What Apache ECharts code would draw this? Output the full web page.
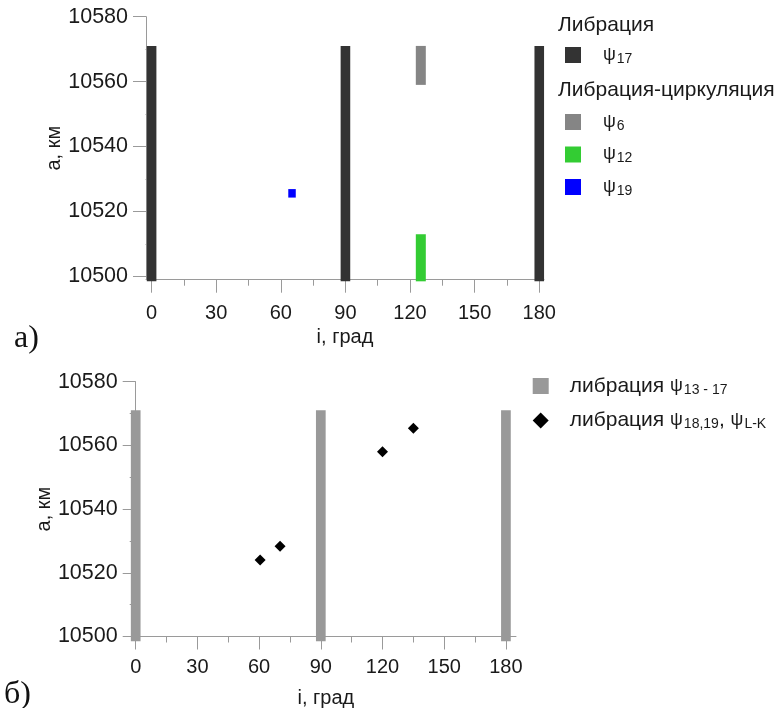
<!DOCTYPE html>
<html><head><meta charset="utf-8">
<script src="https://cdn.jsdelivr.net/npm/echarts@6/dist/echarts.min.js"></script>
<style>html,body{margin:0;padding:0;background:#fff}#chart{width:782px;height:708px}</style>
</head><body><div id="chart"></div>
<script>
// Inclination ticks (deg) and semi-major axis ticks (km)
const xTicks = [0, 30, 60, 90, 120, 150, 180];
const xMinorTicks = [15, 45, 75, 105, 135, 165];
const yTicks = [10500, 10520, 10540, 10560, 10580];
const yMinorTicks = [10510, 10530, 10550, 10570];

// Panel a: libration bands ψ17
const psi17I = [0, 90, 180];
const psi17Low = [10498.5, 10498.5, 10498.5];
const psi17High = [10571, 10571, 10571];
// Panel a: libration-circulation ψ6, ψ12, ψ19
const psi6I = [125];
const psi6Low = [10559];
const psi6High = [10571];
const psi12I = [125];
const psi12Low = [10498.5];
const psi12High = [10513];
const psi19I = [65.2];
const psi19A = [10525.6];

// Panel b: libration bands ψ13-17 and libration points ψ18,19, ψL-K
const bandI = [0, 90, 180];
const bandLow = [10498.5, 10498.5, 10498.5];
const bandHigh = [10571, 10571, 10571];
const pointI = [60.5, 70.2, 120, 135];
const pointA = [10524, 10528.3, 10558, 10565.4];

const FONT = "'Liberation Sans', Arial, sans-serif";
const TXT = '#1a1a1a';
const AXIS = '#9a9a9a';

function zip3(a, b, c) { return a.map((v, k) => [v, b[k], c[k]]); }
function zip2(a, b) { return a.map((v, k) => [v, b[k]]); }

function bandRenderer(widthPx) {
  return function (params, api) {
    const top = api.coord([api.value(0), api.value(2)]);
    const bot = api.coord([api.value(0), api.value(1)]);
    return {
      type: 'rect',
      shape: { x: top[0] - widthPx / 2, y: top[1], width: widthPx, height: bot[1] - top[1] },
      style: { fill: api.visual('color') }
    };
  };
}

function xAxes(gridIndex, min, max, nameGap, labelMargin) {
  return [{
    type: 'value', gridIndex, min, max, position: 'bottom',
    name: 'i, град', nameLocation: 'middle', nameGap, nameMoveOverlap: false,
    nameTextStyle: { fontFamily: FONT, fontSize: 20, color: TXT },
    axisLine: { show: true, onZero: false, lineStyle: { color: AXIS, width: 1 } },
    axisTick: { show: true, length: 13, customValues: xTicks, lineStyle: { color: AXIS } },
    axisLabel: { customValues: xTicks, margin: labelMargin, fontFamily: FONT, fontSize: 20, color: TXT,
      formatter: v => String(v) },
    splitLine: { show: false }
  }, {
    type: 'value', gridIndex, min, max, position: 'bottom',
    axisLine: { show: false },
    axisTick: { show: true, length: 6, customValues: xMinorTicks, lineStyle: { color: AXIS } },
    axisLabel: { show: false },
    splitLine: { show: false }
  }];
}

function yAxes(gridIndex, min, max, nameGap) {
  return [{
    type: 'value', gridIndex, min, max, position: 'left',
    name: 'а, км', nameLocation: 'middle', nameGap, nameMoveOverlap: false,
    nameTextStyle: { fontFamily: FONT, fontSize: 20, color: TXT },
    axisLine: { show: true, onZero: false, lineStyle: { color: AXIS, width: 1 } },
    axisTick: { show: true, length: 13, customValues: yTicks, lineStyle: { color: AXIS } },
    axisLabel: { customValues: yTicks, margin: 18, fontFamily: FONT, fontSize: 21.5, color: TXT,
      formatter: v => String(v) },
    splitLine: { show: false }
  }, {
    type: 'value', gridIndex, min, max, position: 'left',
    axisLine: { show: false },
    axisTick: { show: true, length: 6, customValues: yMinorTicks, lineStyle: { color: AXIS } },
    axisLabel: { show: false },
    splitLine: { show: false }
  }];
}

const richText = {
  t: { fontFamily: FONT, fontSize: 21, color: TXT, lineHeight: 22 },
  t0: { fontFamily: FONT, fontSize: 21, color: TXT, lineHeight: 22, padding: [0, 0, 0, 16] },
  p: { fontFamily: FONT, fontSize: 18, color: TXT, lineHeight: 22 },
  p0: { fontFamily: FONT, fontSize: 18, color: TXT, lineHeight: 22, padding: [0, 0, 0, 17] },
  s: { fontFamily: FONT, fontSize: 14, color: TXT, lineHeight: 16, padding: [8, 0, 0, 1] }
};

const legendLabels = {
  'ψ17': '{p0|ψ}{s|17}',
  'ψ6': '{p0|ψ}{s|6}',
  'ψ12': '{p0|ψ}{s|12}',
  'ψ19': '{p0|ψ}{s|19}',
  'либрация ψ13 - 17': '{t0|либрация }{p|ψ}{s|13 - 17}',
  'либрация ψ18,19, ψL-K': '{t0|либрация }{p|ψ}{s|18,19}{t|, }{p|ψ}{s|L-K}'
};

function legend(left, top, gap, items) {
  return {
    orient: 'vertical', left, top, padding: 0, itemGap: gap,
    itemWidth: 16, itemHeight: 16, selectedMode: false,
    data: items,
    formatter: name => legendLabels[name],
    textStyle: { rich: richText }
  };
}

const option = {
  animation: false,
  backgroundColor: '#fff',
  grid: [
    { left: 146, top: 16.7, width: 398, height: 263, outerBoundsMode: 'none' },
    { left: 135.7, top: 381.7, width: 380.3, height: 254.8, outerBoundsMode: 'none' }
  ],
  xAxis: [...xAxes(0, -2.6, 182.2, 48, 23.5), ...xAxes(1, 0, 184.9, 52, 20.5)],
  yAxis: [...yAxes(0, 10499, 10580, 82), ...yAxes(1, 10500, 10580, 81.5)],
  legend: [
    legend(565, 44, 10.5, [{ name: 'ψ17', icon: 'rect' }]),
    legend(565, 111, 10.5, [{ name: 'ψ6', icon: 'rect' }, { name: 'ψ12', icon: 'rect' }, { name: 'ψ19', icon: 'rect' }]),
    legend(532.7, 375, 12.5, [{ name: 'либрация ψ13 - 17', icon: 'rect' }, { name: 'либрация ψ18,19, ψL-K', icon: 'diamond' }])
  ],
  graphic: [
    { type: 'text', left: 558, top: 15, style: { text: 'Либрация', font: '21px ' + FONT, fill: TXT } },
    { type: 'text', left: 558, top: 80, style: { text: 'Либрация-циркуляция', font: '21px ' + FONT, fill: TXT } },
    { type: 'text', left: 14, top: 323, style: { text: 'а)', font: '32px "Liberation Serif", serif', fill: '#111' } },
    { type: 'text', left: 4, top: 679, style: { text: 'б)', font: '32px "Liberation Serif", serif', fill: '#111' } }
  ],
  series: [
    { name: 'ψ17', type: 'custom', xAxisIndex: 0, yAxisIndex: 0, clip: false, z: 3,
      itemStyle: { color: '#333333' }, encode: { x: 0, y: [1, 2] },
      renderItem: bandRenderer(9.6), data: zip3(psi17I, psi17Low, psi17High) },
    { name: 'ψ6', type: 'custom', xAxisIndex: 0, yAxisIndex: 0, clip: false, z: 3,
      itemStyle: { color: '#858585' }, encode: { x: 0, y: [1, 2] },
      renderItem: bandRenderer(10), data: zip3(psi6I, psi6Low, psi6High) },
    { name: 'ψ12', type: 'custom', xAxisIndex: 0, yAxisIndex: 0, clip: false, z: 3,
      itemStyle: { color: '#33cc33' }, encode: { x: 0, y: [1, 2] },
      renderItem: bandRenderer(10), data: zip3(psi12I, psi12Low, psi12High) },
    { name: 'ψ19', type: 'scatter', xAxisIndex: 0, yAxisIndex: 0, z: 3,
      symbol: 'rect', symbolSize: [7.5, 8.5], itemStyle: { color: '#0000ff', opacity: 1 },
      data: zip2(psi19I, psi19A) },
    { name: 'либрация ψ13 - 17', type: 'custom', xAxisIndex: 2, yAxisIndex: 2, clip: false, z: 3,
      itemStyle: { color: '#999999' }, encode: { x: 0, y: [1, 2] },
      renderItem: bandRenderer(9.7), data: zip3(bandI, bandLow, bandHigh) },
    { name: 'либрация ψ18,19, ψL-K', type: 'scatter', xAxisIndex: 2, yAxisIndex: 2, z: 3,
      symbol: 'diamond', symbolSize: 11, itemStyle: { color: '#000000', opacity: 1 },
      data: zip2(pointI, pointA) }
  ]
};

const chart = echarts.init(document.getElementById('chart'), null, { renderer: 'canvas' });
chart.setOption(option);
</script>
</body></html>
